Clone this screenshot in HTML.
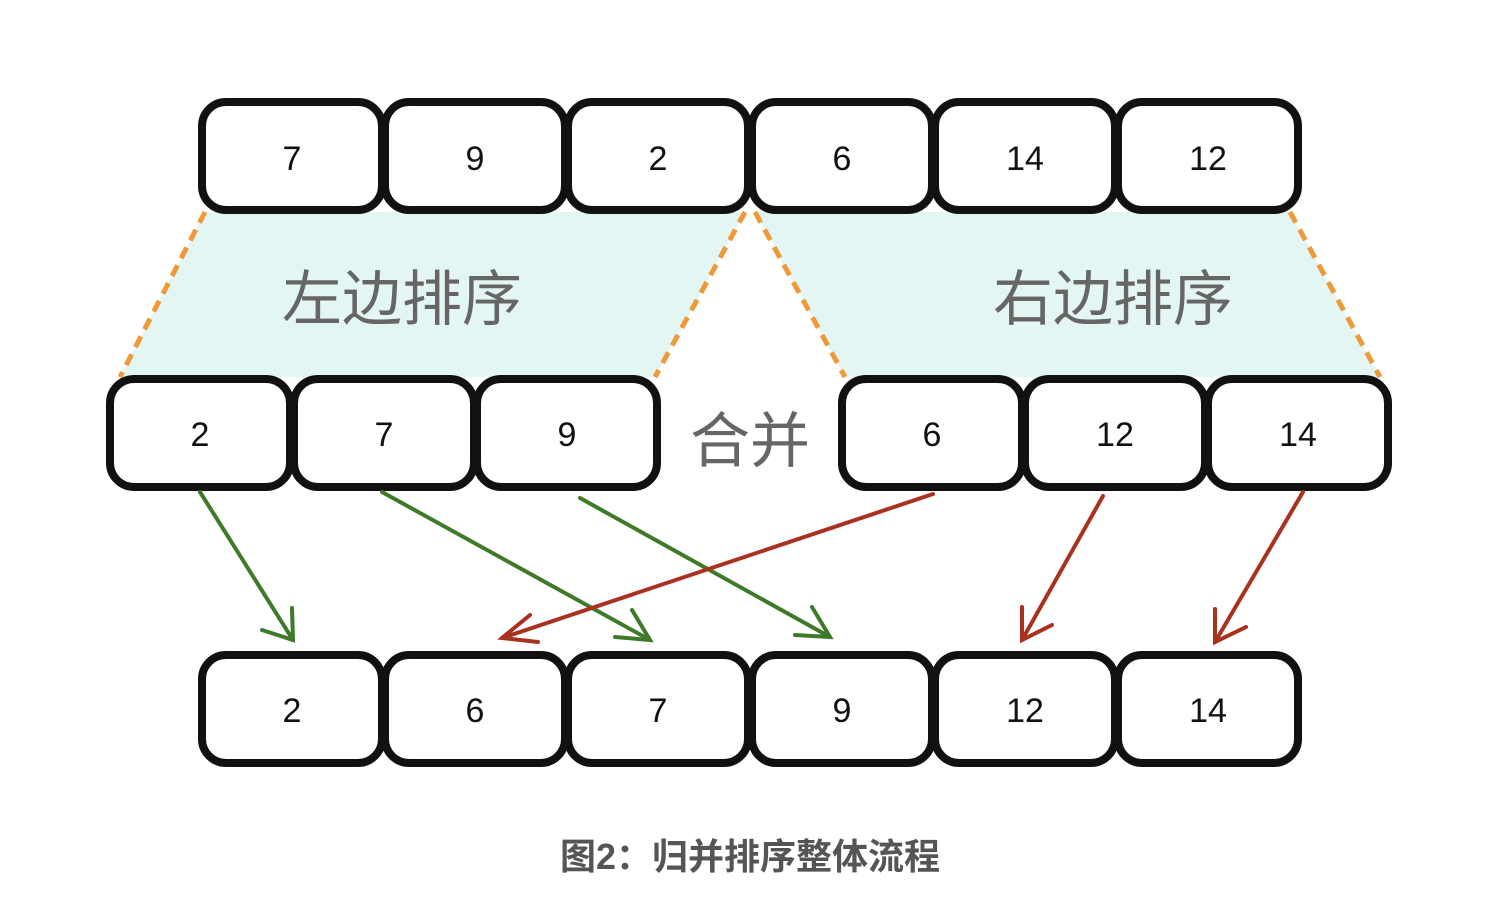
<!DOCTYPE html>
<html><head><meta charset="utf-8"><style>
html,body{margin:0;padding:0;background:#fff;width:1500px;height:916px;overflow:hidden}
svg{display:block}
.b{fill:#fff;stroke:#111;stroke-width:8}
.n{font-family:"Liberation Sans","Noto Sans CJK SC",sans-serif;font-size:34px;fill:#111;text-anchor:middle}
.t{font-family:"Liberation Sans","Noto Sans CJK SC",sans-serif;font-size:60px;fill:#666;text-anchor:middle}
</style></head><body>
<svg width="1500" height="916" viewBox="0 0 1500 916">
<polygon points="205,212 745,212 655,377 120,377" fill="#e3f6f3"/>
<polygon points="755,212 1290,212 1380,377 845,377" fill="#e3f6f3"/>
<g stroke="#ef9a3a" stroke-width="5" stroke-dasharray="12,8" fill="none">
<line x1="205" y1="212" x2="120" y2="377"/><line x1="745" y1="212" x2="655" y2="377"/>
<line x1="755" y1="212" x2="845" y2="377"/><line x1="1290" y1="212" x2="1380" y2="377"/>
</g>
<text class="t" x="402" y="320">左边排序</text>
<text class="t" x="1113" y="320">右边排序</text>
<text class="t" x="750" y="462">合并</text>
<g>
<rect class="b" x="202" y="102" width="180" height="108" rx="24"/>
<rect class="b" x="385" y="102" width="180" height="108" rx="24"/>
<rect class="b" x="568" y="102" width="180" height="108" rx="24"/>
<rect class="b" x="752" y="102" width="180" height="108" rx="24"/>
<rect class="b" x="935" y="102" width="180" height="108" rx="24"/>
<rect class="b" x="1118" y="102" width="180" height="108" rx="24"/>
<rect class="b" x="110" y="379" width="180" height="108" rx="24"/>
<rect class="b" x="294" y="379" width="180" height="108" rx="24"/>
<rect class="b" x="477" y="379" width="180" height="108" rx="24"/>
<rect class="b" x="842" y="379" width="180" height="108" rx="24"/>
<rect class="b" x="1025" y="379" width="180" height="108" rx="24"/>
<rect class="b" x="1208" y="379" width="180" height="108" rx="24"/>
<rect class="b" x="202" y="655" width="180" height="108" rx="24"/>
<rect class="b" x="385" y="655" width="180" height="108" rx="24"/>
<rect class="b" x="568" y="655" width="180" height="108" rx="24"/>
<rect class="b" x="752" y="655" width="180" height="108" rx="24"/>
<rect class="b" x="935" y="655" width="180" height="108" rx="24"/>
<rect class="b" x="1118" y="655" width="180" height="108" rx="24"/>
</g>
<g>
<text class="n" x="292" y="170">7</text><text class="n" x="475" y="170">9</text><text class="n" x="658" y="170">2</text>
<text class="n" x="842" y="170">6</text><text class="n" x="1025" y="170">14</text><text class="n" x="1208" y="170">12</text>
<text class="n" x="200" y="446">2</text><text class="n" x="384" y="446">7</text><text class="n" x="567" y="446">9</text>
<text class="n" x="932" y="446">6</text><text class="n" x="1115" y="446">12</text><text class="n" x="1298" y="446">14</text>
<text class="n" x="292" y="722">2</text><text class="n" x="475" y="722">6</text><text class="n" x="658" y="722">7</text>
<text class="n" x="842" y="722">9</text><text class="n" x="1025" y="722">12</text><text class="n" x="1208" y="722">14</text>
</g>
<g stroke-width="4" fill="none" stroke-linecap="round">
<g stroke="#3f7a2a">
<line x1="200" y1="492" x2="293" y2="640"/><path d="M262,630 L293,640 L292,608"/>
<line x1="382" y1="492" x2="650" y2="640"/><path d="M615,637 L650,640 L632,610"/>
<line x1="580" y1="498" x2="830" y2="637"/><path d="M795,635 L830,637 L812,607"/>
</g>
<g stroke="#a8321e">
<line x1="933" y1="494" x2="502" y2="638"/><path d="M530,615 L502,638 L538,642"/>
<line x1="1103" y1="496" x2="1022" y2="640"/><path d="M1022,607 L1022,640 L1052,625"/>
<line x1="1303" y1="492" x2="1215" y2="642"/><path d="M1215,609 L1215,642 L1246,627"/>
</g>
</g>
<text x="750" y="869" font-family="Liberation Sans,'Noto Sans CJK SC',sans-serif" font-size="36" font-weight="bold" fill="#555" text-anchor="middle">图2：归并排序整体流程</text>
</svg>
</body></html>
